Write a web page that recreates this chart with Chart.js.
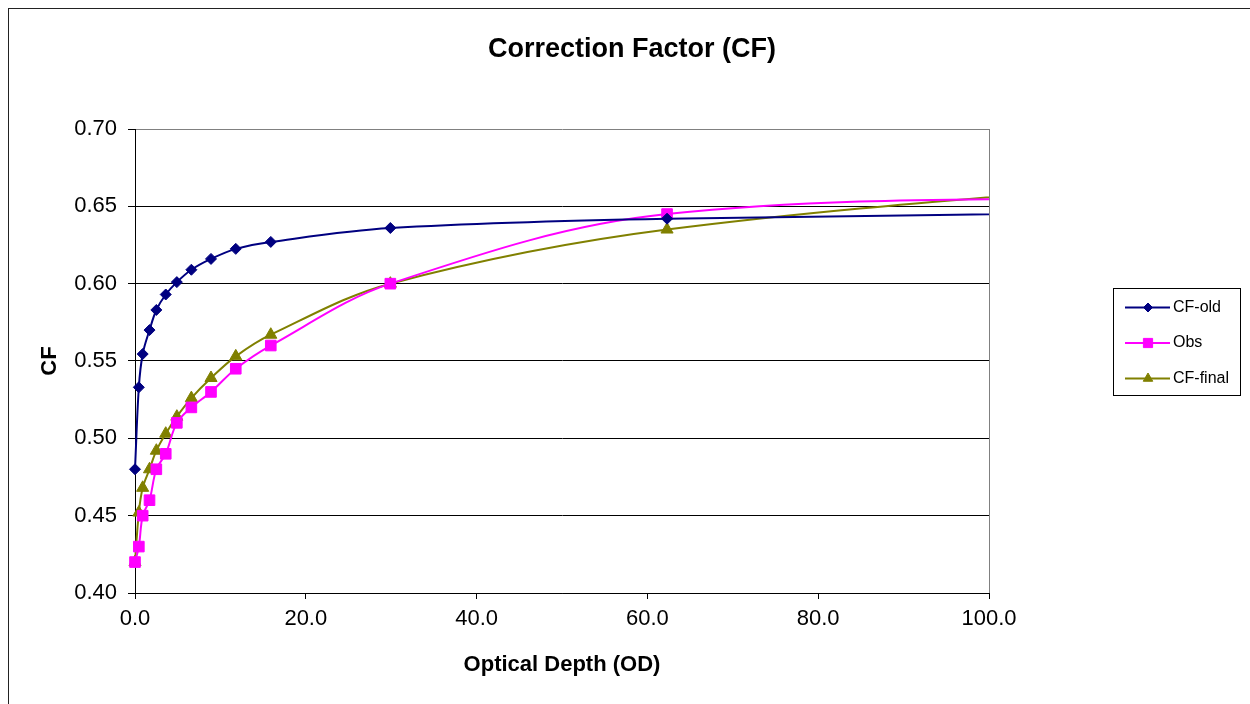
<!DOCTYPE html>
<html>
<head>
<meta charset="utf-8">
<script src="https://cdn.jsdelivr.net/npm/chart.js@4.4.0/dist/chart.umd.min.js"></script>
<style>
html,body{margin:0;padding:0;background:#fff;overflow:hidden}
#wrap{position:relative;width:1250px;height:704px;overflow:hidden}
#frame{position:absolute;left:8px;top:8px;width:1400px;height:900px;border-left:1px solid #222;border-top:1px solid #222;pointer-events:none}
canvas{position:absolute;left:0;top:0}
</style>
</head>
<body>
<div id="wrap">
<canvas id="c" width="1250" height="704"></canvas>
<div id="frame"></div>
</div>
<script>
// ---- data ----
const chartTitle = 'Correction Factor (CF)';
const xTitle = 'Optical Depth (OD)';
const yTitle = 'CF';
const seriesNames = ['CF-old', 'Obs', 'CF-final'];
// the last OD value lies beyond the visible axis (the curves run off the right edge)
const odValues = [0, 0.45, 0.9, 1.7, 2.5, 3.6, 4.9, 6.6, 8.9, 11.8, 15.9, 29.9, 62.3, 130];
const cfOld   = [0.480, 0.533, 0.5545, 0.570, 0.583, 0.593, 0.601, 0.609, 0.616, 0.6225, 0.627, 0.636, 0.642, 0.6465];
const obs     = [0.420, 0.430, 0.450, 0.460, 0.480, 0.490, 0.510, 0.520, 0.530, 0.545, 0.560, 0.600, 0.645, 0.657];
const cfFinal = [0.420, 0.452, 0.468, 0.480, 0.492, 0.503, 0.514, 0.526, 0.539, 0.553, 0.567, 0.600, 0.635, 0.670];
const xTickValues = [0, 20, 40, 60, 80, 100];
const yTickValues = [0.40, 0.45, 0.50, 0.55, 0.60, 0.65, 0.70];

const FONT = '"Liberation Sans", Arial, sans-serif';
const colors = ['#000080', '#FF00FF', '#808000'];
const styles = ['rectRot', 'rect', 'triangle'];
const radii = [5.5, 7.5, 7];
const legendRadii = [4.5, 6.5, 5.5];
const seriesValues = [cfOld, obs, cfFinal];

const toPts = vals => vals.map((v, i) => ({x: odValues[i], y: v}));

const datasets = seriesNames.map((name, k) => ({
  label: name,
  data: toPts(seriesValues[k]),
  borderColor: colors[k],
  backgroundColor: colors[k],
  borderWidth: 2,
  pointStyle: styles[k],
  pointRadius: radii[k],
  pointHoverRadius: radii[k],
  pointBorderWidth: 1,
  pointBackgroundColor: colors[k],
  pointBorderColor: colors[k],
  tension: 0.35,
  fill: false,
  clip: {left: 12, top: 0, right: 0, bottom: 12}
}));

const decorPlugin = {
  id: 'decor',
  afterDraw(chart) {
    const ctx = chart.ctx;
    ctx.save();
    // title
    ctx.fillStyle = '#000';
    ctx.font = 'bold 27px ' + FONT;
    ctx.textAlign = 'center';
    ctx.textBaseline = 'middle';
    ctx.fillText(chartTitle, 632, 50);
    // legend box
    ctx.strokeStyle = '#000';
    ctx.lineWidth = 1;
    ctx.strokeRect(1113.5, 288.5, 127, 107);
    chart.data.datasets.forEach((ds, i) => {
      const y = 307.5 + i * 35.5;
      ctx.strokeStyle = ds.borderColor;
      ctx.lineWidth = 2;
      ctx.beginPath();
      ctx.moveTo(1125, y);
      ctx.lineTo(1170, y);
      ctx.stroke();
      ctx.fillStyle = ds.borderColor;
      ctx.strokeStyle = ds.borderColor;
      ctx.lineWidth = 1;
      Chart.helpers.drawPoint(ctx, {pointStyle: ds.pointStyle, radius: legendRadii[i], borderWidth: 1, rotation: 0}, 1148, y);
      ctx.fillStyle = '#000';
      ctx.font = '16px ' + FONT;
      ctx.textAlign = 'left';
      ctx.textBaseline = 'middle';
      ctx.fillText(ds.label, 1173, y);
    });
    ctx.restore();
  }
};

new Chart(document.getElementById('c'), {
  type: 'line',
  data: {datasets},
  options: {
    responsive: false,
    animation: false,
    events: [],
    layout: {padding: {left: 0, top: 129, right: 261, bottom: 0}},
    plugins: {
      legend: {display: false},
      title: {display: false},
      tooltip: {enabled: false}
    },
    scales: {
      x: {
        type: 'linear',
        min: 0,
        max: 100,
        afterFit: s => { s.height = 111; },
        afterBuildTicks: s => { s.ticks = xTickValues.map(v => ({value: v})); },
        ticks: {
          color: '#000',
          font: {family: FONT, size: 22},
          padding: 7,
          maxRotation: 0,
          callback: v => Number(v).toFixed(1)
        },
        grid: {
          color: c => (c.tick && c.tick.value === 100 ? '#808080' : 'rgba(0,0,0,0)'),
          tickColor: '#000',
          tickLength: 6,
          lineWidth: 1
        },
        border: {display: true, color: '#000', width: 1},
        title: {
          display: true,
          text: xTitle,
          color: '#000',
          font: {family: FONT, size: 22, weight: 'bold'},
          padding: {top: 0, bottom: 25.5}
        }
      },
      y: {
        type: 'linear',
        min: 0.40,
        max: 0.70,
        afterFit: s => { s.width = 135; },
        afterBuildTicks: s => { s.ticks = yTickValues.map(v => ({value: v})); },
        ticks: {
          color: '#000',
          font: {family: FONT, size: 22},
          padding: 11,
          callback: v => Number(v).toFixed(2)
        },
        grid: {
          color: c => (c.tick && Math.abs(c.tick.value - 0.70) < 1e-9 ? '#808080' : '#000'),
          tickColor: '#000',
          tickLength: 7,
          lineWidth: 1
        },
        border: {display: true, color: '#000', width: 1},
        title: {
          display: true,
          text: yTitle,
          color: '#000',
          font: {family: FONT, size: 22, weight: 'bold'},
          padding: {top: 36.8, bottom: 0}
        }
      }
    }
  },
  plugins: [decorPlugin]
});
</script>
</body>
</html>
